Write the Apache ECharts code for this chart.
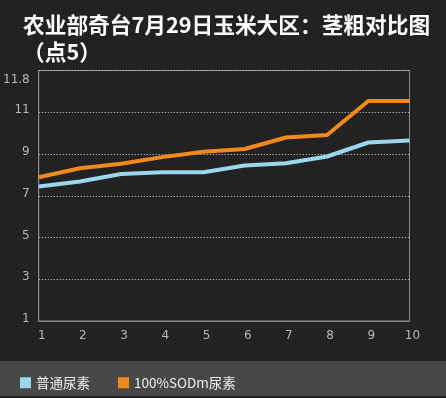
<!DOCTYPE html>
<html>
<head>
<meta charset="utf-8">
<script src="https://cdn.jsdelivr.net/npm/echarts@6/dist/echarts.min.js"></script>
<style>
  html, body { margin: 0; padding: 0; background: #222222; }
  #main { width: 446px; height: 398px; }
</style>
</head>
<body>
<div id="main"></div>
<script>
// x categories (points 1..10)
var categories = ['1', '2', '3', '4', '5', '6', '7', '8', '9', '10']
// 普通尿素
var ureaData = [7.44, 7.68, 8.04, 8.13, 8.13, 8.45, 8.56, 8.88, 9.55, 9.65]
// 100%SODm尿素
var sodmData = [7.89, 8.32, 8.53, 8.85, 9.11, 9.24, 9.79, 9.91, 11.54, 11.54]
// y tick labels, top tick shows the max value
var yTicks = { 1: '1', 3: '3', 5: '5', 7: '7', 9: '9', 11: '11', 13: '11.8' }

var seriesNames = ['普通尿素', '100%SODm尿素']
var colors = ['#9bd8f0', '#f08a1d']

var chart = echarts.init(document.getElementById('main'), null, { renderer: 'canvas' })
chart.setOption({
  backgroundColor: '#222222',
  animation: false,
  title: {
    text: '农业部奇台7月29日玉米大区：茎粗对比图\n（点5）',
    left: 18,
    top: 6,
    textStyle: {
      color: '#ffffff',
      fontSize: 21.7,
      fontWeight: 'bold',
      lineHeight: 27,
      fontFamily: 'Noto Sans CJK SC, sans-serif'
    }
  },
  graphic: [{
    type: 'rect',
    left: 0,
    top: 361,
    shape: { width: 446, height: 35 },
    style: { fill: '#474946' },
    z: -1
  }],
  legend: {
    data: seriesNames,
    left: 15,
    top: 371,
    icon: 'rect',
    itemWidth: 11,
    itemHeight: 11,
    itemGap: 28,
    textStyle: {
      color: '#f0f0f0',
      fontSize: 13.5,
      fontFamily: 'Noto Sans CJK SC, sans-serif'
    }
  },
  grid: {
    left: 38.5,
    right: 36.5,
    top: 70.5,
    bottom: 77,
    show: true,
    borderColor: '#8a8a8a',
    borderWidth: 1
  },
  xAxis: {
    type: 'category',
    boundaryGap: false,
    data: categories,
    axisLine: { lineStyle: { color: '#8a8a8a' } },
    axisTick: { show: false },
    axisLabel: {
      color: '#b8b8b8',
      fontSize: 12,
      margin: 9,
      padding: [0, 0, 0, 6],
      fontFamily: 'DejaVu Sans, sans-serif'
    },
    splitLine: { show: false }
  },
  yAxis: {
    type: 'value',
    min: 1,
    max: 13,
    interval: 2,
    axisLine: { show: true, lineStyle: { color: '#8a8a8a' } },
    axisTick: { show: false },
    axisLabel: {
      color: '#b8b8b8',
      fontSize: 12,
      margin: 9,
      fontFamily: 'DejaVu Sans, sans-serif',
      formatter: function (v) {
        return v === 13 ? '{top|' + yTicks[v] + '}' : '{n|' + yTicks[v] + '}'
      },
      rich: {
        top: { color: '#b8b8b8', fontSize: 12, padding: [19, 0, 0, 0] },
        n: { color: '#b8b8b8', fontSize: 12, padding: [0, 0, 4, 0] }
      }
    },
    splitLine: {
      show: true,
      lineStyle: { color: '#e0e0e0', type: [1, 2], width: 1 }
    }
  },
  series: [{
    name: seriesNames[0],
    type: 'line',
    data: ureaData,
    symbol: 'none',
    color: colors[0],
    lineStyle: { width: 4 }
  }, {
    name: seriesNames[1],
    type: 'line',
    data: sodmData,
    symbol: 'none',
    color: colors[1],
    lineStyle: { width: 4 }
  }]
})
</script>
</body>
</html>
